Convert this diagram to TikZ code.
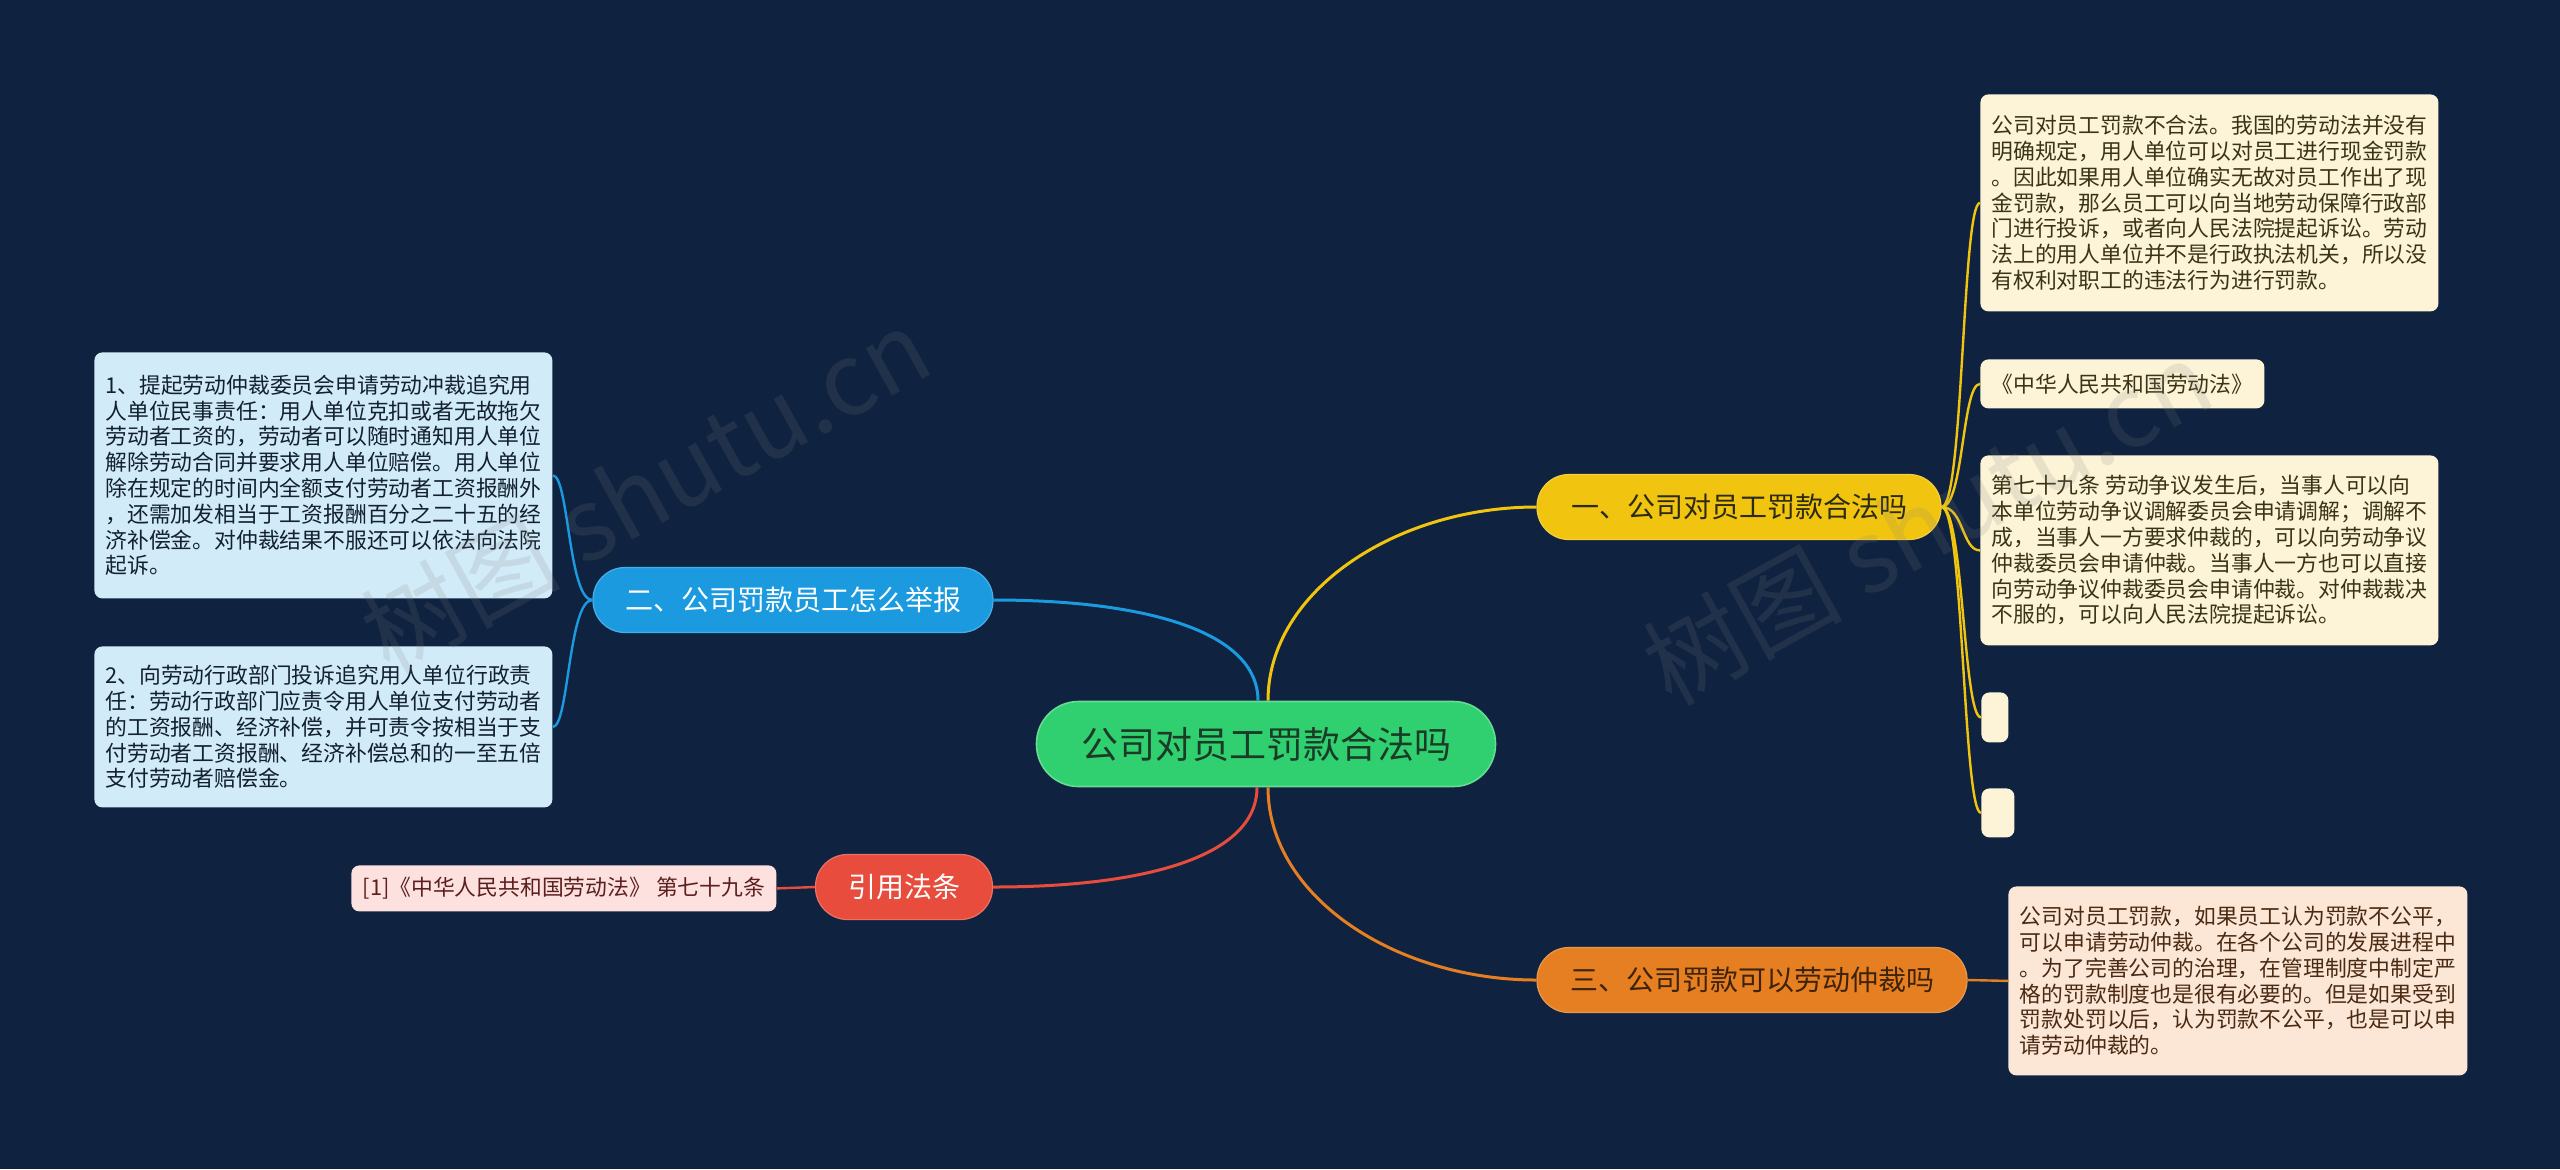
\documentclass[tikz,border=0pt]{standalone}
\usepackage{fontspec}
\setmainfont{Noto Sans CJK SC}

\definecolor{bgnavy}{HTML}{0F2340}
\definecolor{rootgreen}{RGB}{48,208,112}
\definecolor{roottext}{HTML}{1B3B26}
\definecolor{yelb}{HTML}{F1C40F}
\definecolor{blub}{HTML}{1B9AE0}
\definecolor{orgb}{HTML}{E67E22}
\definecolor{redb}{HTML}{E74C3C}
\definecolor{yeltext}{HTML}{2B2A12}
\definecolor{orgtext}{HTML}{3D2309}
\definecolor{yelleaf}{HTML}{FDF4D7}
\definecolor{bluleaf}{HTML}{D2EBF8}
\definecolor{orgleaf}{HTML}{FCE7D7}
\definecolor{redleaf}{HTML}{FDE1DE}
\definecolor{yelink}{HTML}{3A3417}
\definecolor{bluink}{HTML}{13202F}
\definecolor{orgink}{HTML}{4A2A12}
\definecolor{redink}{HTML}{5C1F1F}

\begin{document}
\begin{tikzpicture}[x=0.5pt,y=-0.5pt,
    topic/.style={fill=#1, draw=#1!80!white, line width=0.6pt, rounded corners=16pt,
        minimum height=32.5pt, inner sep=0pt, font=\fontsize{14}{16}\selectfont},
    leaf/.style={fill=#1, rounded corners=4pt, inner sep=3pt, align=left, anchor=north west,
        font=\fontsize{10.9}{12.9}\selectfont},
    link/.style={draw=#1, line width=1.5pt},
    twig/.style={draw=#1, line width=1.2pt},
    wmtext/.style={text=gray, text opacity=0.16, font=\fontsize{50}{50}\selectfont}]

% ===== 背景 =====
\fill[bgnavy] (0,0) rectangle (2560,1169);

% ===== 中心主题 =====
\node[fill=rootgreen, draw=rootgreen!75!white, line width=0.8pt, rounded corners=21pt,
    minimum width=229.5pt, minimum height=42.5pt, inner sep=0pt, text=roottext,
    font=\fontsize{18.5}{20}\selectfont] (root) at (1266,744) {公司对员工罚款合法吗};

% ===== 分支 =====
\node[topic=yelb, text=yeltext, minimum width=202pt] (fakuan) at (1739,507) {一、公司对员工罚款合法吗};
\node[topic=blub, text=white, minimum width=200pt] (jubao) at (793,600) {二、公司罚款员工怎么举报};
\node[topic=orgb, text=orgtext, minimum width=215pt] (zhongcai) at (1752,980) {三、公司罚款可以劳动仲裁吗};
\node[topic=redb, text=white, minimum width=88.5pt] (fatiao) at (904,887) {引用法条};

% ===== 叶子 =====
\node[leaf=yelleaf, text=yelink, minimum width=229pt, minimum height=108.5pt] (fk1) at (1980,94)
    {公司对员工罚款不合法。我国的劳动法并没有\\明确规定，用人单位可以对员工进行现金罚款\\。因此如果用人单位确实无故对员工作出了现\\金罚款，那么员工可以向当地劳动保障行政部\\门进行投诉，或者向人民法院提起诉讼。劳动\\法上的用人单位并不是行政执法机关，所以没\\有权利对职工的违法行为进行罚款。};
\node[leaf=yelleaf, text=yelink, minimum width=142pt, minimum height=24.5pt] (fk2) at (1980,359)
    {《中华人民共和国劳动法》};
\node[leaf=yelleaf, text=yelink, minimum width=229pt, minimum height=95pt] (fk3) at (1980,455)
    {第七十九条 劳动争议发生后，当事人可以向\\本单位劳动争议调解委员会申请调解；调解不\\成，当事人一方要求仲裁的，可以向劳动争议\\仲裁委员会申请仲裁。当事人一方也可以直接\\向劳动争议仲裁委员会申请仲裁。对仲裁裁决\\不服的，可以向人民法院提起诉讼。};
\node[leaf=yelleaf, minimum width=13.5pt, minimum height=25pt] (fk4) at (1981,692) {};
\node[leaf=yelleaf, minimum width=16.5pt, minimum height=24.5pt] (fk5) at (1981,788) {};

\node[leaf=bluleaf, text=bluink, minimum width=229pt, minimum height=123pt] (jb1) at (94,352)
    {1、提起劳动仲裁委员会申请劳动冲裁追究用\\人单位民事责任：用人单位克扣或者无故拖欠\\劳动者工资的，劳动者可以随时通知用人单位\\解除劳动合同并要求用人单位赔偿。用人单位\\除在规定的时间内全额支付劳动者工资报酬外\\，还需加发相当于工资报酬百分之二十五的经\\济补偿金。对仲裁结果不服还可以依法向法院\\起诉。};
\node[leaf=bluleaf, text=bluink, minimum width=229pt, minimum height=80.5pt] (jb2) at (94,646)
    {2、向劳动行政部门投诉追究用人单位行政责\\任：劳动行政部门应责令用人单位支付劳动者\\的工资报酬、经济补偿，并可责令按相当于支\\付劳动者工资报酬、经济补偿总和的一至五倍\\支付劳动者赔偿金。};

\node[leaf=orgleaf, text=orgink, minimum width=229.5pt, minimum height=94.5pt] (zc1) at (2008,886)
    {公司对员工罚款，如果员工认为罚款不公平，\\可以申请劳动仲裁。在各个公司的发展进程中\\。为了完善公司的治理，在管理制度中制定严\\格的罚款制度也是很有必要的。但是如果受到\\罚款处罚以后，认为罚款不公平，也是可以申\\请劳动仲裁的。};

\node[leaf=redleaf, text=redink, minimum width=212.5pt, minimum height=23pt] (ft1) at (351,865)
    {[1]《中华人民共和国劳动法》 第七十九条};

% ===== 主干连线 =====
\draw[link=yelb] ([xshift=1pt]root.north) .. controls ([xshift=1pt,yshift=55pt]root.north)
    and ([xshift=-70pt]fakuan.west) .. (fakuan.west);
\draw[link=blub] ([xshift=-4pt]root.north) .. controls ([xshift=-4pt,yshift=35pt]root.north)
    and ([xshift=75pt]jubao.east) .. (jubao.east);
\draw[link=redb] ([xshift=-4.5pt]root.south) .. controls ([xshift=-4.5pt,yshift=-35pt]root.south)
    and ([xshift=75pt]fatiao.east) .. (fatiao.east);
\draw[link=orgb] ([xshift=1pt]root.south) .. controls ([xshift=1pt,yshift=-55pt]root.south)
    and ([xshift=-70pt]zhongcai.west) .. (zhongcai.west);

% ===== 分支连线 =====
\foreach \leafname in {fk1,fk2,fk3,fk4,fk5} {
    \draw[twig=yelb] (fakuan.east) .. controls ([xshift=11pt]fakuan.east)
        and ([xshift=-9pt]\leafname.west) .. (\leafname.west);
}
\foreach \leafname in {jb1,jb2} {
    \draw[twig=blub] (jubao.west) .. controls ([xshift=-12pt]jubao.west)
        and ([xshift=8pt]\leafname.east) .. (\leafname.east);
}
\draw[twig=orgb] (zhongcai.east) -- (zc1.west);
\draw[twig=redb] (fatiao.west) -- (ft1.east);

% ===== 水印 =====
\node[wmtext, rotate=29] (wm1) at (645,490) {树图 shutu.cn};
\node[wmtext, rotate=29] (wm2) at (1927,522) {树图 shutu.cn};

\end{tikzpicture}
\end{document}
